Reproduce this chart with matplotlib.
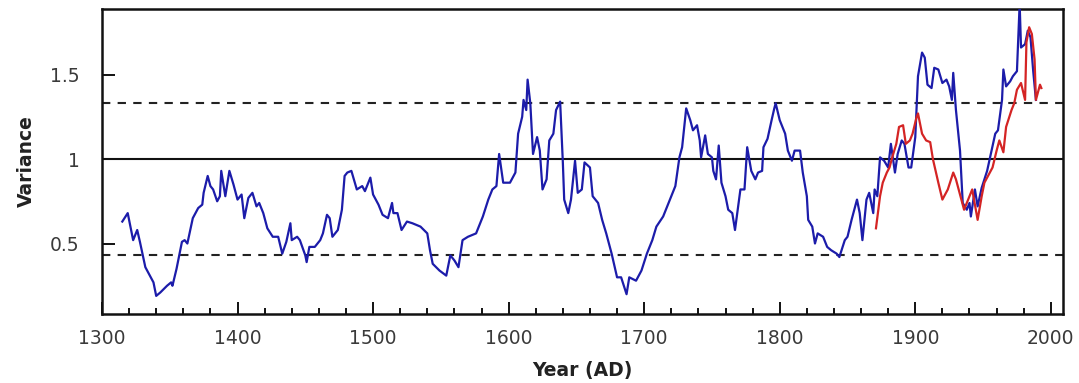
import matplotlib
matplotlib.use("Agg")
import matplotlib.pyplot as plt
from matplotlib.ticker import MultipleLocator, FixedLocator

# Blue series (reconstruction)
blue_years = [1315, 1319, 1321, 1323, 1326, 1328, 1332, 1334, 1338, 1340, 1343, 1348, 1351, 1352, 1355,
              1359, 1361, 1363, 1367, 1371, 1374, 1375, 1378, 1380, 1382, 1385, 1387, 1388, 1391, 1394,
              1397, 1400, 1403, 1405, 1408, 1411, 1414, 1416, 1419, 1422, 1426, 1430, 1433, 1436, 1439,
              1440, 1444, 1446, 1450, 1451, 1453, 1457, 1461, 1463, 1466, 1468, 1470, 1474, 1477, 1479,
              1481, 1484, 1488, 1492, 1494, 1498, 1500, 1504, 1507, 1511, 1514, 1515, 1518, 1521, 1525,
              1529, 1535, 1540, 1542, 1544, 1549, 1554, 1557, 1560, 1563, 1566, 1570, 1576, 1581, 1585,
              1588, 1591, 1593, 1596, 1601, 1605, 1607, 1610, 1611, 1613, 1614, 1616, 1618, 1621, 1623,
              1625, 1628, 1630, 1633, 1635, 1638, 1640, 1641, 1644, 1646, 1649, 1651, 1654, 1656, 1660,
              1662, 1666, 1669, 1672, 1676, 1680, 1683, 1687, 1689, 1694, 1698, 1702, 1706, 1709, 1714,
              1719, 1723, 1726, 1728, 1731, 1734, 1736, 1739, 1741, 1742, 1745, 1747, 1750, 1751, 1753,
              1755, 1757, 1760, 1762, 1765, 1767, 1769, 1771, 1774, 1776, 1779, 1782, 1784, 1787, 1788,
              1791, 1794, 1796, 1797, 1800, 1804, 1806, 1809, 1811, 1815, 1817, 1820, 1821, 1824, 1826,
              1828, 1832, 1835, 1838, 1842, 1844, 1848, 1850, 1853, 1857, 1859, 1861, 1864, 1866, 1869,
              1870, 1872, 1874, 1877, 1880, 1882, 1885, 1887, 1890, 1892, 1895, 1897, 1900, 1902, 1905,
              1907, 1909, 1912, 1914, 1917, 1920, 1923, 1925, 1927, 1928, 1930, 1933, 1935, 1938, 1940,
              1941, 1944, 1946, 1949, 1951, 1953, 1956, 1959, 1961, 1964, 1965, 1967, 1970, 1972, 1975,
              1977, 1978, 1981, 1983, 1985, 1987, 1989]
blue_values = [0.63, 0.68, 0.60, 0.52, 0.58, 0.51, 0.36, 0.33, 0.27, 0.19, 0.21, 0.25, 0.27, 0.25, 0.35,
               0.51, 0.52, 0.50, 0.65, 0.71, 0.73, 0.80, 0.90, 0.84, 0.82, 0.75, 0.78, 0.93, 0.78, 0.93,
               0.85, 0.76, 0.79, 0.65, 0.77, 0.80, 0.72, 0.74, 0.68, 0.59, 0.54, 0.54, 0.44, 0.51, 0.62,
               0.52, 0.54, 0.52, 0.43, 0.39, 0.48, 0.48, 0.52, 0.56, 0.67, 0.65, 0.54, 0.58, 0.70, 0.90,
               0.92, 0.93, 0.82, 0.84, 0.81, 0.89, 0.79, 0.73, 0.67, 0.65, 0.74, 0.68, 0.68, 0.58, 0.63,
               0.62, 0.60, 0.56, 0.46, 0.38, 0.34, 0.31, 0.43, 0.40, 0.36, 0.52, 0.54, 0.56, 0.66, 0.76,
               0.82, 0.84, 1.03, 0.86, 0.86, 0.92, 1.15, 1.25, 1.35, 1.29, 1.47, 1.33, 1.03, 1.13, 1.05,
               0.82, 0.88, 1.11, 1.15, 1.29, 1.34, 0.98, 0.76, 0.68, 0.76, 0.99, 0.80, 0.82, 0.98, 0.95,
               0.78, 0.74, 0.64, 0.56, 0.44, 0.30, 0.30, 0.20, 0.30, 0.28, 0.34, 0.44, 0.52, 0.60, 0.66,
               0.76, 0.84, 1.01, 1.07, 1.30, 1.23, 1.17, 1.20, 1.11, 1.01, 1.14, 1.03, 1.01, 0.93, 0.88,
               1.08, 0.86, 0.78, 0.70, 0.68, 0.58, 0.70, 0.82, 0.82, 1.07, 0.93, 0.88, 0.92, 0.93, 1.07,
               1.12, 1.23, 1.30, 1.33, 1.23, 1.15, 1.05, 0.99, 1.05, 1.05, 0.92, 0.78, 0.64, 0.60, 0.50,
               0.56, 0.54, 0.48, 0.46, 0.44, 0.42, 0.52, 0.54, 0.64, 0.76, 0.68, 0.52, 0.76, 0.80, 0.68,
               0.82, 0.78, 1.01, 0.99, 0.95, 1.09, 0.92, 1.03, 1.11, 1.09, 0.95, 0.95, 1.13, 1.49, 1.63,
               1.60, 1.44, 1.42, 1.54, 1.53, 1.45, 1.47, 1.43, 1.35, 1.51, 1.29, 1.05, 0.74, 0.70, 0.74,
               0.66, 0.82, 0.72, 0.83, 0.88, 0.93, 1.04, 1.15, 1.17, 1.35, 1.53, 1.43, 1.46, 1.49, 1.52,
               1.92, 1.66, 1.68, 1.76, 1.72, 1.52, 1.35]

# Red series (instrumental)
red_years = [1871, 1874, 1876, 1879, 1881, 1883, 1886, 1888, 1891, 1893, 1896, 1898, 1901, 1902, 1905,
             1908, 1911, 1913, 1917, 1920, 1924, 1928, 1930, 1934, 1936, 1939, 1942, 1946, 1949, 1951,
             1955, 1957, 1960, 1962, 1965, 1967, 1971, 1973, 1975, 1978, 1981, 1982, 1984, 1986, 1988,
             1989, 1992, 1993]
red_values = [0.59, 0.78, 0.86, 0.92, 0.95, 1.01, 1.09, 1.19, 1.20, 1.09, 1.11, 1.15, 1.25, 1.27, 1.15,
              1.11, 1.10, 1.00, 0.86, 0.76, 0.82, 0.92, 0.88, 0.76, 0.70, 0.76, 0.82, 0.64, 0.78, 0.86,
              0.92, 0.95, 1.05, 1.11, 1.04, 1.19, 1.29, 1.33, 1.41, 1.45, 1.35, 1.69, 1.78, 1.74, 1.59,
              1.35, 1.44, 1.42]

reference_level = 1.0
lower_bound = 0.43
upper_bound = 1.333
x_major_ticks = [1300, 1400, 1500, 1600, 1700, 1800, 1900, 2000]
y_major_ticks = [0.5, 1.0, 1.5]
y_tick_labels = ["0.5", "1", "1.5"]

plt.rcParams['font.family'] = ['DejaVu Sans']
fig = plt.figure(figsize=(10.79, 3.83), dpi=100)
ax = fig.add_axes([0.0945, 0.1802, 0.8907, 0.7963])

ax.axhline(reference_level, color='#111111', lw=1.5, zorder=2)
ax.axhline(lower_bound, color='#222222', lw=1.5, dashes=(4, 3.5), zorder=2)
ax.axhline(upper_bound, color='#222222', lw=1.5, dashes=(4, 3.5), zorder=2)

ax.plot(blue_years, blue_values, color='#1c1caa', lw=1.6, zorder=3)
ax.plot(red_years, red_values, color='#d42424', lw=1.6, zorder=4)

ax.set_xlim(1300, 2009)
ax.set_ylim(0.083, 1.888)

ax.xaxis.set_major_locator(FixedLocator(x_major_ticks))
ax.xaxis.set_minor_locator(MultipleLocator(20))
ax.yaxis.set_major_locator(FixedLocator(y_major_ticks))
ax.set_yticklabels(y_tick_labels)

ax.tick_params(axis='x', which='major', direction='in', length=9, width=1.4,
               labelsize=13.5, pad=11, colors='#111111', labelcolor='#3a3a3a')
ax.tick_params(axis='x', which='minor', direction='in', length=4.5, width=1.4, colors='#111111')
ax.tick_params(axis='y', which='major', direction='in', length=9.5, width=1.4,
               labelsize=13.5, pad=16, colors='#111111', labelcolor='#3a3a3a')
ax.tick_params(top=False, right=False)

for s in ax.spines.values():
    s.set_linewidth(1.8)
    s.set_color('#111111')

ax.set_xlabel('Year (AD)', fontsize=13.5, fontweight='bold', color='#222222', labelpad=9)
ax.set_ylabel('Variance', fontsize=13.5, fontweight='bold', color='#222222', labelpad=10)

fig.savefig('out.png', dpi=100)
